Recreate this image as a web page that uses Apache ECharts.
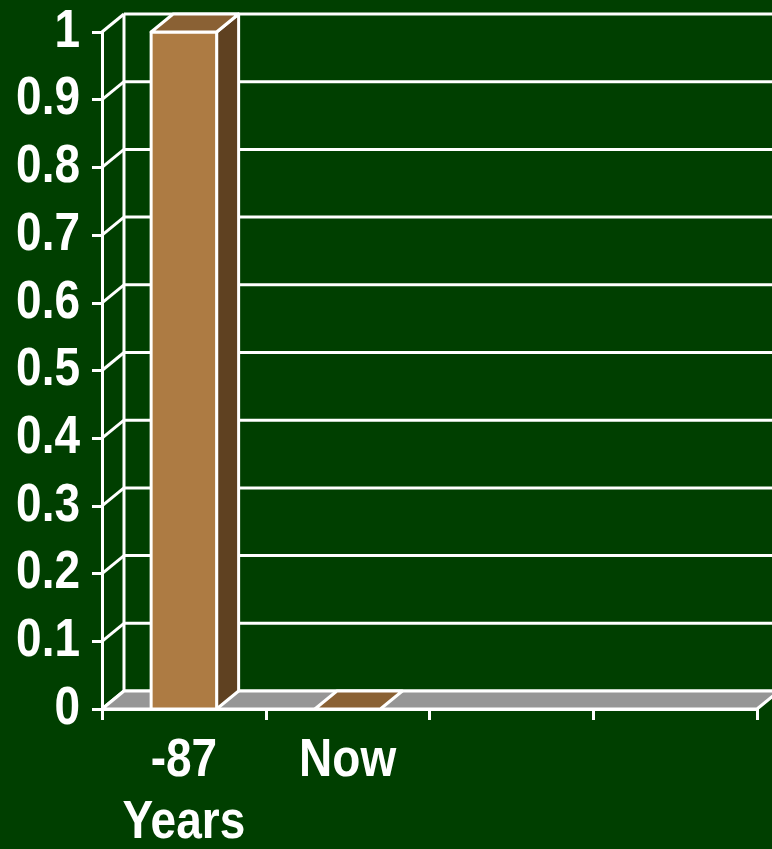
<!DOCTYPE html>
<html>
<head>
<meta charset="utf-8">
<script src="https://cdn.jsdelivr.net/npm/echarts@6/dist/echarts.min.js"></script>
<style>
  html, body { margin: 0; padding: 0; background: #003f00; }
  #chart { width: 772px; height: 849px; }
</style>
</head>
<body>
<div id="chart"></div>
<script>
const categories = ['-87\nYears', 'Now', '', ''];
const values = [1, 0, null, null];
const yTicks = [0, 0.1, 0.2, 0.3, 0.4, 0.5, 0.6, 0.7, 0.8, 0.9, 1];

// depth offset of the fake 3d look
const DX = 22;
const DY = -18;
const white = '#ffffff';
// the original font is a tall bold sans, so labels get stretched a bit
const FONT = 'bold 46px "Liberation Sans", Arial, sans-serif';
const STRETCH = 1.16;

const chart = echarts.init(document.getElementById('chart'), null, { renderer: 'canvas' });

chart.setOption({
  backgroundColor: '#003f00',
  animation: false,
  grid: { left: 102, right: 15, top: 32, bottom: 140 },
  xAxis: {
    type: 'category',
    data: categories,
    axisLine: { lineStyle: { color: white, width: 3 } },
    axisTick: { show: true, interval: 0, length: 11, lineStyle: { color: white, width: 3 } },
    axisLabel: { show: false },
    splitLine: { show: false }
  },
  yAxis: {
    type: 'value',
    min: 0,
    max: 1,
    interval: 0.1,
    axisLine: { show: true, lineStyle: { color: white, width: 3 } },
    axisTick: { show: true, length: 10, lineStyle: { color: white, width: 3 } },
    axisLabel: { show: false },
    splitLine: { show: false }
  },
  series: [
    {
      // back wall grid lines + diagonals
      type: 'custom',
      z: 1,
      silent: true,
      data: yTicks.map(v => [0, v]),
      renderItem: (params, api) => {
        const cs = params.coordSys;
        const y = api.coord([0, api.value(1)])[1];
        const ls = { stroke: white, lineWidth: 3 };
        const children = [
          { type: 'line', shape: { x1: cs.x, y1: y, x2: cs.x + DX, y2: y + DY }, style: ls },
          { type: 'line', shape: { x1: cs.x + DX, y1: y + DY, x2: cs.x + cs.width + DX, y2: y + DY }, style: ls }
        ];
        if (params.dataIndex === 0) {
          children.push({ type: 'line', shape: { x1: cs.x + DX, y1: cs.y + DY, x2: cs.x + DX, y2: cs.y + cs.height + DY }, style: ls });
        }
        return { type: 'group', children };
      }
    },
    {
      // y tick labels
      type: 'custom',
      z: 4,
      silent: true,
      data: yTicks.map(v => [0, v]),
      renderItem: (params, api) => {
        const cs = params.coordSys;
        const v = api.value(1);
        const y = api.coord([0, v])[1];
        return {
          type: 'text',
          x: cs.x - 22,
          y: y,
          scaleY: STRETCH,
          style: { text: String(+v.toFixed(1)), x: 0, y: 0, align: 'right', verticalAlign: 'middle', font: FONT, fill: white }
        };
      }
    },
    {
      // category labels
      type: 'custom',
      z: 4,
      silent: true,
      data: categories.map((c, i) => [i, 0]),
      renderItem: (params, api) => {
        const i = api.value(0);
        const p = api.coord([i, 0]);
        const lines = categories[i].split('\n');
        return {
          type: 'group',
          children: lines.map((t, k) => ({
            type: 'text',
            x: p[0],
            y: p[1] + 52 + k * 62,
            scaleY: STRETCH,
            style: { text: t, x: 0, y: 0, align: 'center', verticalAlign: 'middle', font: FONT, fill: white }
          }))
        };
      }
    },
    {
      // floor
      type: 'custom',
      z: 2,
      silent: true,
      data: [[0, 0]],
      renderItem: (params, api) => {
        const cs = params.coordSys;
        const y = api.coord([0, 0])[1];
        const x0 = cs.x, x1 = cs.x + cs.width;
        return {
          type: 'polygon',
          shape: { points: [[x0, y], [x1, y], [x1 + DX, y + DY], [x0 + DX, y + DY]] },
          style: { fill: '#969696', stroke: white, lineWidth: 3, lineJoin: 'round' }
        };
      }
    },
    {
      // bars
      type: 'custom',
      z: 3,
      data: values.map((v, i) => [i, v]).filter(d => d[1] !== null),
      renderItem: (params, api) => {
        const i = api.value(0);
        const top = api.coord([i, api.value(1)]);
        const base = api.coord([i, 0]);
        const w = api.size([1, 0])[0] * 0.4;
        const l = top[0] - w / 2, r = top[0] + w / 2;
        const st = { stroke: white, lineWidth: 3, lineJoin: 'round' };
        const children = [];
        if (base[1] - top[1] > 0.5) {
          children.push({
            type: 'polygon',
            shape: { points: [[r, top[1]], [r + DX, top[1] + DY], [r + DX, base[1] + DY], [r, base[1]]] },
            style: Object.assign({ fill: '#5f4121' }, st)
          });
          children.push({
            type: 'rect',
            shape: { x: l, y: top[1], width: w, height: base[1] - top[1] },
            style: Object.assign({ fill: '#ad7b43' }, st)
          });
        }
        children.push({
          type: 'polygon',
          shape: { points: [[l, top[1]], [r, top[1]], [r + DX, top[1] + DY], [l + DX, top[1] + DY]] },
          style: Object.assign({ fill: '#8a6134' }, st)
        });
        return { type: 'group', children };
      }
    }
  ]
});
</script>
</body>
</html>
